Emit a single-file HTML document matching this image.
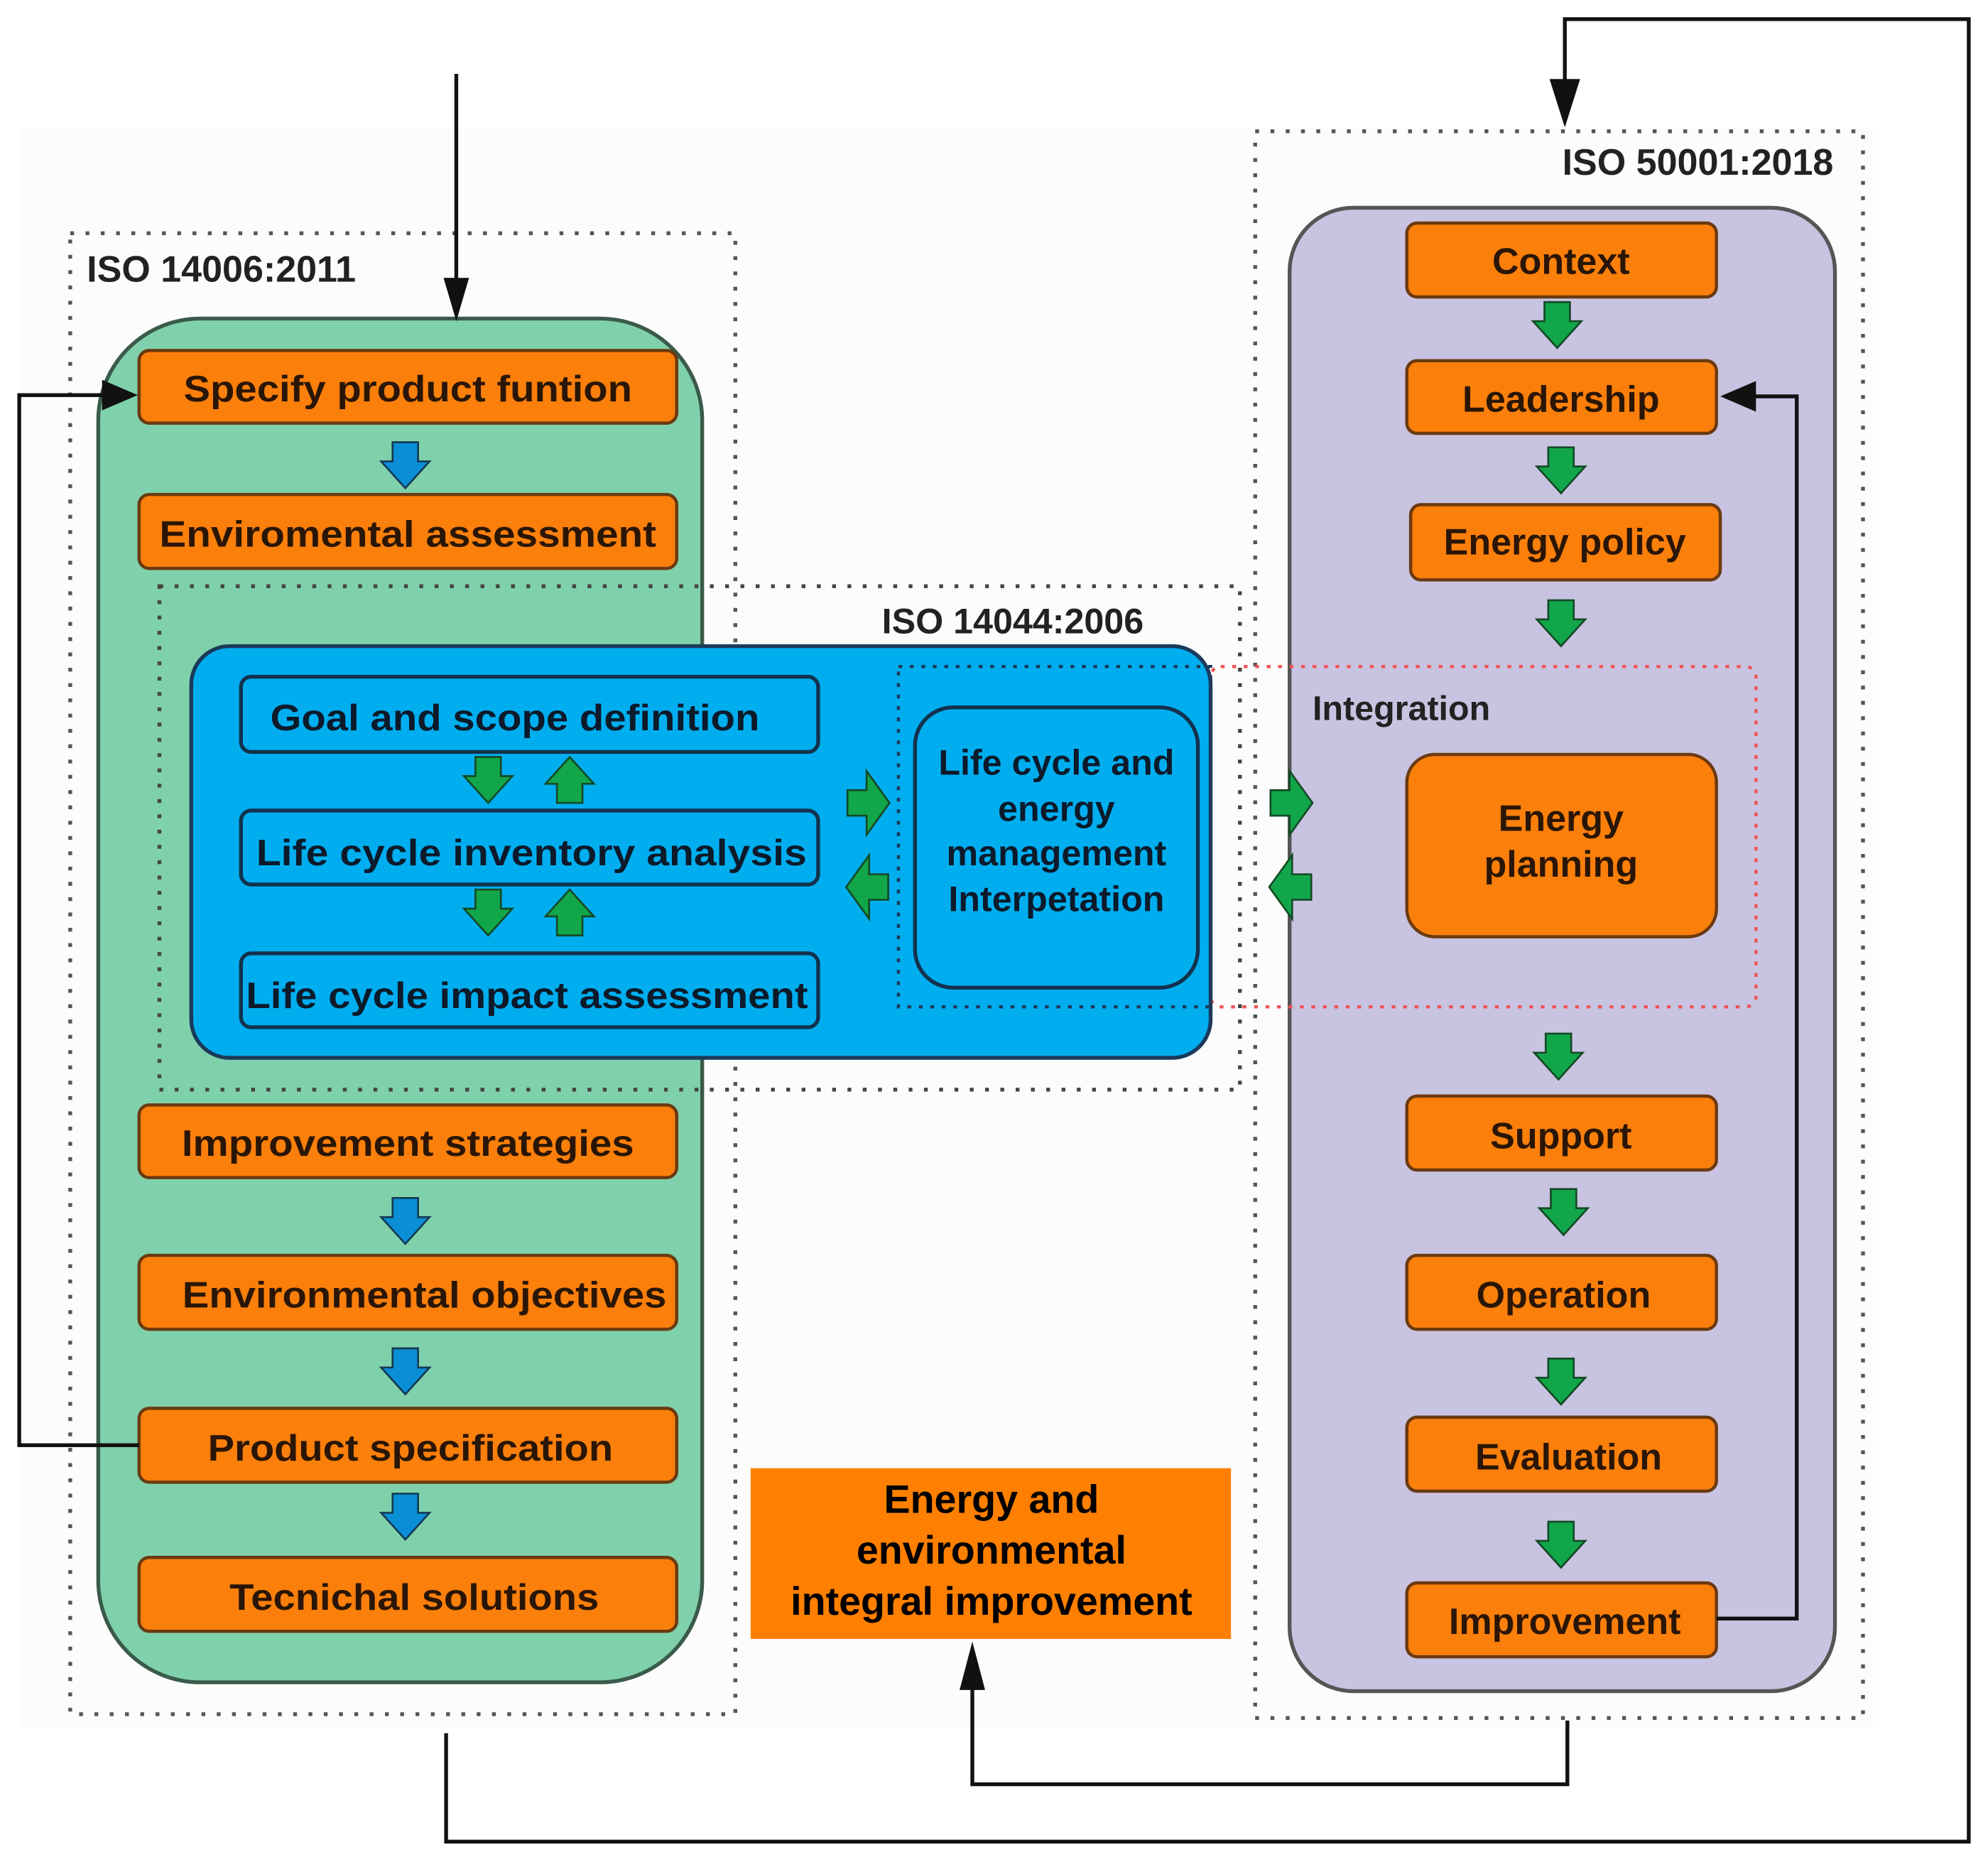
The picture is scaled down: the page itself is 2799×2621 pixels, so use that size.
<!DOCTYPE html>
<html><head><meta charset="utf-8"><style>
html,body{margin:0;padding:0;background:#fff;}
svg{display:block;}
text{font-family:"Liberation Sans",sans-serif;font-weight:bold;}
</style></head><body>
<svg width="2799" height="2621" viewBox="0 0 1560 1461" xmlns="http://www.w3.org/2000/svg">
<defs>
<g id="bd"><path d="M-10,-18 H10 V-3 H19 L0,18 L-19,-3 H-10 Z" fill="#0a8fd6" stroke="#153a55" stroke-width="1.5"/></g>
<g id="gd"><path d="M-10,-18 H10 V-3 H19 L0,18 L-19,-3 H-10 Z" fill="#11a64a" stroke="#144a25" stroke-width="1.5"/></g>
<g id="gu"><path d="M-10,18 H10 V3 H19 L0,-18 L-19,3 H-10 Z" fill="#11a64a" stroke="#144a25" stroke-width="1.5"/></g>
<g id="gr"><path d="M-16,-10 V10 H-1 V25 L17,0 L-1,-25 V-10 Z" fill="#11a64a" stroke="#144a25" stroke-width="1.5"/></g>
<g id="gl"><path d="M16,-10 V10 H1 V25 L-17,0 L1,-25 V-10 Z" fill="#11a64a" stroke="#144a25" stroke-width="1.5"/></g>
</defs>
<rect width="1560" height="1461" fill="#fff"/>
<rect x="15" y="100" width="1455" height="1255" fill="#fcfcfc"/>

<rect x="55" y="183" width="522" height="1162" fill="none" stroke="#555" stroke-width="3" stroke-dasharray="3 9"/>
<text x="68" y="221" font-size="29" fill="#222">ISO 14006:2011</text>
<rect x="77" y="250" width="474" height="1070" rx="80" fill="#7fd1ab" stroke="#3a5a4a" stroke-width="3"/>

<rect x="985" y="103" width="477" height="1245" fill="none" stroke="#555" stroke-width="3" stroke-dasharray="3 9"/>
<text x="1226" y="137" font-size="29" fill="#222">ISO 50001:2018</text>
<rect x="1012" y="163" width="428" height="1164" rx="50" fill="#c8c3e1" stroke="#555" stroke-width="3"/>

<rect x="125" y="460" width="848" height="395" fill="none" stroke="#444" stroke-width="3" stroke-dasharray="3 9"/>
<text x="692" y="497" font-size="28" fill="#222">ISO 14044:2006</text>

<rect x="950" y="523" width="428" height="267" rx="8" fill="none" stroke="#e55" stroke-width="2.5" stroke-dasharray="3 6"/>

<rect x="150" y="507" width="800" height="323" rx="30" fill="#00aeef" stroke="#1a3a5a" stroke-width="3"/>
<g fill="none" stroke="#13324d" stroke-width="3">
<rect x="189" y="531" width="453" height="59" rx="8"/>
<rect x="189" y="636" width="453" height="58" rx="8"/>
<rect x="189" y="748" width="453" height="58" rx="8"/>
<rect x="718" y="555" width="222" height="220" rx="30"/>
</g>
<rect x="705" y="523" width="245" height="267" fill="none" stroke="#1a3a5a" stroke-width="2.5" stroke-dasharray="3 6"/>
<g font-size="29" fill="#0c1a2a">
<text x="212" y="573" textLength="384" lengthAdjust="spacingAndGlyphs">Goal and scope definition</text>
<text x="201" y="679" textLength="432" lengthAdjust="spacingAndGlyphs">Life cycle inventory analysis</text>
<text x="193" y="791" textLength="441" lengthAdjust="spacingAndGlyphs">Life cycle impact assessment</text>
</g>
<g font-size="28" fill="#0c1a2a" text-anchor="middle">
<text x="829" y="608">Life cycle and</text>
<text x="829" y="644">energy</text>
<text x="829" y="679">management</text>
<text x="829" y="715">Interpetation</text>
</g>
<use href="#gd" x="383" y="612"/><use href="#gu" x="447" y="612"/>
<use href="#gd" x="383" y="716"/><use href="#gu" x="447" y="716"/>
<use href="#gr" x="681" y="630"/><use href="#gl" x="681" y="696"/>
<use href="#gr" x="1013" y="630"/><use href="#gl" x="1013" y="696"/>

<g fill="#fb7f0b" stroke="#6b3a10" stroke-width="2.5">
<rect x="109" y="275" width="422" height="57" rx="8"/>
<rect x="109" y="388" width="422" height="58" rx="8"/>
<rect x="109" y="867" width="422" height="57" rx="8"/>
<rect x="109" y="985" width="422" height="58" rx="8"/>
<rect x="109" y="1105" width="422" height="58" rx="8"/>
<rect x="109" y="1222" width="422" height="58" rx="8"/>
<rect x="1104" y="175" width="243" height="58" rx="8"/>
<rect x="1104" y="283" width="243" height="57" rx="8"/>
<rect x="1107" y="396" width="243" height="59" rx="8"/>
<rect x="1104" y="592" width="243" height="143" rx="22"/>
<rect x="1104" y="860" width="243" height="58" rx="8"/>
<rect x="1104" y="985" width="243" height="58" rx="8"/>
<rect x="1104" y="1112" width="243" height="58" rx="8"/>
<rect x="1104" y="1242" width="243" height="58" rx="8"/>
</g>
<g font-size="29" fill="#2a1606" text-anchor="middle">
<text x="320" y="315" textLength="352" lengthAdjust="spacingAndGlyphs">Specify product funtion</text>
<text x="320" y="429" textLength="390" lengthAdjust="spacingAndGlyphs">Enviromental assessment</text>
<text x="320" y="907" textLength="355" lengthAdjust="spacingAndGlyphs">Improvement strategies</text>
<text x="333" y="1026" textLength="380" lengthAdjust="spacingAndGlyphs">Environmental objectives</text>
<text x="322" y="1146" textLength="318" lengthAdjust="spacingAndGlyphs">Product specification</text>
<text x="325" y="1263" textLength="290" lengthAdjust="spacingAndGlyphs">Tecnichal solutions</text>
<text x="1225" y="215">Context</text>
<text x="1225" y="323">Leadership</text>
<text x="1228" y="435">Energy policy</text>
<text x="1225" y="652">Energy</text>
<text x="1225" y="688">planning</text>
<text x="1225" y="901">Support</text>
<text x="1227" y="1026">Operation</text>
<text x="1231" y="1153">Evaluation</text>
<text x="1228" y="1282">Improvement</text>
</g>
<text x="1030" y="565" font-size="27" fill="#222">Integration</text>

<use href="#bd" x="318" y="365"/><use href="#bd" x="318" y="958"/>
<use href="#bd" x="318" y="1076"/><use href="#bd" x="318" y="1190"/>
<use href="#gd" x="1222" y="255"/><use href="#gd" x="1225" y="369"/>
<use href="#gd" x="1225" y="489"/><use href="#gd" x="1223" y="829"/>
<use href="#gd" x="1227" y="951"/><use href="#gd" x="1225" y="1084"/>
<use href="#gd" x="1225" y="1212"/>

<rect x="589" y="1152" width="377" height="134" fill="#ff7f00"/>
<g font-size="31" fill="#000" text-anchor="middle">
<text x="778" y="1187">Energy and</text>
<text x="778" y="1227">environmental</text>
<text x="778" y="1267">integral improvement</text>
</g>

<g fill="none" stroke="#111" stroke-width="3">
<path d="M358,58 V230"/>
<path d="M109,1134 H15 V310 H88"/>
<path d="M1347,1270 H1410 V311 H1372"/>
<path d="M350,1360 V1445 H1545 V15 H1228 V78"/>
<path d="M1230,1350 V1400 H763 V1310"/>
</g>
<g fill="#111">
<path d="M348,218 L368,218 L358,252 Z"/>
<path d="M80,298 L80,322 L108,310 Z"/>
<path d="M1378,299 L1378,323 L1350,311 Z"/>
<path d="M1216,62 L1240,62 L1228,100 Z"/>
<path d="M753,1326 L773,1326 L763,1288 Z"/>
</g>
</svg>
</body></html>
